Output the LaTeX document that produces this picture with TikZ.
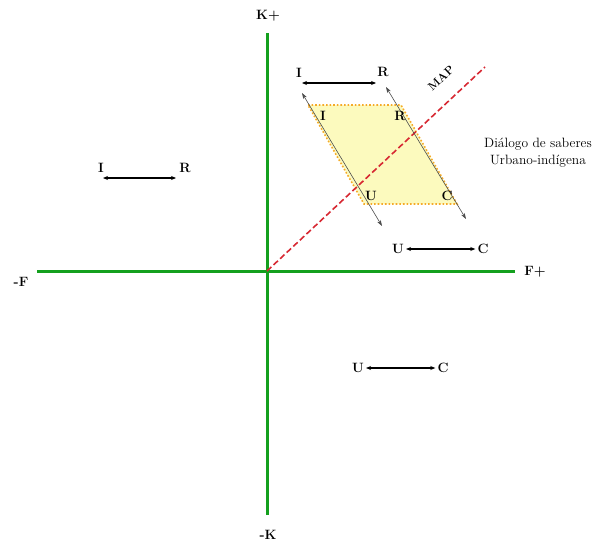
\documentclass[tikz,border=0pt]{standalone}
\usetikzlibrary{arrows.meta}
\definecolor{axisgreen}{RGB}{20,160,30}
\definecolor{mapred}{RGB}{215,40,50}
\definecolor{fillyel}{RGB}{252,250,190}
\definecolor{edgeor}{RGB}{245,170,40}
\tikzset{
  axis/.style={axisgreen, line width=3pt},
  lbl/.style={font=\bfseries\fontsize{13.5}{13.5}\selectfont, inner sep=0pt},
  dbl/.style={{Stealth[length=5pt,width=4pt]}-{Stealth[length=5pt,width=4pt]}, line width=1.3pt, black},
  thin/.style={{Stealth[length=6pt,width=4pt]}-{Stealth[length=6pt,width=4pt]}, line width=0.6pt, black!70},
  txt/.style={font=\fontsize{13.5}{17}\selectfont, align=center, inner sep=0pt}
}
\begin{document}
\begin{tikzpicture}[x=1pt,y=-1pt]
\useasboundingbox (0,0) rectangle (597,543);
% axes
\coordinate (O) at (267,271);
\coordinate (top) at (267,33);
\coordinate (bot) at (267,515);
\coordinate (lft) at (37,271);
\coordinate (rgt) at (515,271);
\draw[axis] (bot) -- (top);
\draw[axis] (lft) -- (rgt);
\node[lbl] (kp) at (268,16) {K+};
\node[lbl] (km) at (268,535) {-K};
\node[lbl] (fm) at (21,282) {-F};
\node[lbl] (fp) at (535,272) {F+};
% parallelogram
\coordinate (p1) at (308,105);
\coordinate (p2) at (401,105);
\coordinate (p3) at (457,204);
\coordinate (p4) at (364,204);
\fill[fillyel] (p1) -- (p2) -- (p3) -- (p4) -- cycle;
\draw[edgeor, line width=1.6pt, dotted] (p1) -- (p2) -- (p3) -- (p4) -- cycle;
% MAP line
\coordinate (mapend) at (485,67);
\draw[mapred, line width=1.6pt, dash pattern=on 6pt off 3pt] (O) -- (mapend);
\node[font=\bfseries\fontsize{11.5}{11.5}\selectfont, rotate=43, inner sep=0pt] (map) at (441,78) {MAP};
% thin arrows along sides
\coordinate (la) at (302,93);
\coordinate (lb) at (382,226);
\coordinate (ra) at (386,87);
\coordinate (rb) at (466,219);
\draw[thin] (la) -- (lb);
\draw[thin] (ra) -- (rb);
% labels inside
\node[lbl] (iin) at (323,116) {I};
\node[lbl] (rin) at (400,116) {R};
\node[lbl] (uin) at (371,196) {U};
\node[lbl] (cin) at (447,196) {C};
% I <-> R top
\node[lbl] (i1) at (299,73) {I};
\node[lbl] (r1) at (383,72) {R};
\coordinate (a1) at (302,83);
\coordinate (b1) at (376,83);
\draw[dbl] (a1) -- (b1);
% I <-> R left
\node[lbl] (i2) at (101,168) {I};
\node[lbl] (r2) at (185,168) {R};
\coordinate (a2) at (103,178);
\coordinate (b2) at (176,178);
\draw[dbl] (a2) -- (b2);
% U <-> C upper
\node[lbl] (u1) at (398,249) {U};
\node[lbl] (c1) at (483,249) {C};
\draw[dbl] ([xshift=2pt]u1.east) -- ([xshift=-2pt]c1.west);
% U <-> C lower
\node[lbl] (u2) at (358,368) {U};
\node[lbl] (c2) at (443,368) {C};
\draw[dbl] ([xshift=2pt]u2.east) -- ([xshift=-2pt]c2.west);
% text
\node[txt] (dlg) at (538,153) {Diálogo de saberes\\Urbano-indígena};
\end{tikzpicture}
\end{document}
